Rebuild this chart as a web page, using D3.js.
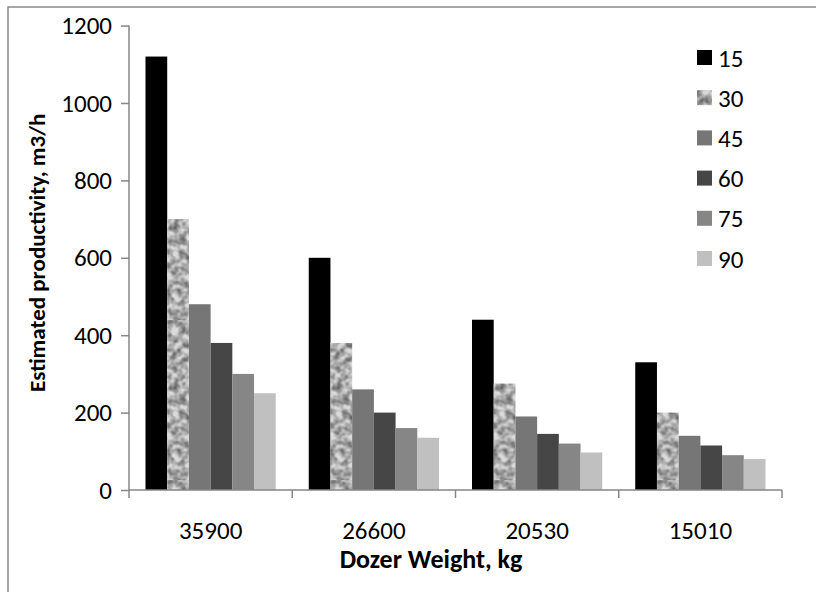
<!DOCTYPE html>
<html>
<head>
<meta charset="utf-8">
<script src="https://cdn.jsdelivr.net/npm/d3@7"></script>
<style>
  html, body { margin: 0; padding: 0; background: #fff; }
  svg { display: block; }
  text { font-family: Carlito, Lato, "Open Sans", sans-serif; fill: #000; }
</style>
</head>
<body>
<svg id="chart" width="816" height="592"></svg>
<script>
// ---- data ----
const categories = ["35900", "26600", "20530", "15010"];
const seriesNames = ["15", "30", "45", "60", "75", "90"];
const s15 = [1120, 600, 440, 330];
const s30 = [700, 380, 275, 200];
const s45 = [480, 260, 190, 140];
const s60 = [380, 200, 145, 115];
const s75 = [300, 160, 120, 90];
const s90 = [250, 135, 97, 80];
const yTicks = [0, 200, 400, 600, 800, 1000, 1200];
const xTitle = "Dozer Weight, kg";
const yTitle = "Estimated productivity, m3/h";

const seriesValues = [s15, s30, s45, s60, s75, s90];
const fills = ["#000000", "url(#granite)", "#767676", "#464646", "#868686", "#c0c0c0"];

const svg = d3.select("#chart");
const W = 816, H = 592;
const m = { left: 129, right: 34, top: 25.6, bottom: 102 };
const FONT = "Carlito, Lato, 'Open Sans', sans-serif";

// defs: granite texture
const defs = svg.append("defs");
const filt = defs.append("filter").attr("id", "graniteF")
  .attr("x", 0).attr("y", 0).attr("width", 1).attr("height", 1)
  .attr("color-interpolation-filters", "sRGB");
filt.append("feTurbulence").attr("type", "fractalNoise")
  .attr("baseFrequency", 0.14).attr("numOctaves", 2).attr("seed", 11).attr("result", "noise");
filt.append("feColorMatrix").attr("in", "noise").attr("type", "matrix")
  .attr("values", "0 0 0 0 0.25  0 0 0 0 0.25  0 0 0 0 0.25  1.5 0 0 0 -0.45")
  .attr("result", "dark");
filt.append("feFlood").attr("flood-color", "#dadada").attr("result", "base");
filt.append("feComposite").attr("in", "dark").attr("in2", "base").attr("operator", "over").attr("result", "mix");
filt.append("feComposite").attr("in", "mix").attr("in2", "SourceGraphic").attr("operator", "in");

const pat = defs.append("pattern").attr("id", "granite")
  .attr("patternUnits", "userSpaceOnUse").attr("width", 160).attr("height", 160);
pat.append("rect").attr("width", 160).attr("height", 160).attr("fill", "#aaa")
  .attr("filter", "url(#graniteF)");

// outer frame
svg.append("rect").attr("x", 8).attr("y", 7).attr("width", W + 20).attr("height", H + 20)
  .attr("fill", "none").attr("stroke", "#8a8a8a").attr("stroke-width", 1.5);

// scales
const x0 = d3.scaleBand().domain(categories).range([m.left, W - m.right]).paddingInner(0).paddingOuter(0);
const x1 = d3.scaleBand().domain(seriesNames).range([0, x0.bandwidth()]).paddingOuter(0.76).paddingInner(0);
const y = d3.scaleLinear().domain([0, 1200]).range([H - m.bottom, m.top]);

// bars
const groups = svg.append("g").selectAll("g").data(categories).join("g")
  .attr("transform", c => `translate(${x0(c)},0)`);
groups.selectAll("rect")
  .data((c, ci) => seriesNames.map((s, si) => ({ s, si, v: seriesValues[si][ci] })))
  .join("rect")
  .attr("x", d => x1(d.s))
  .attr("y", d => y(d.v))
  .attr("width", x1.bandwidth())
  .attr("height", d => y(0) - y(d.v))
  .attr("fill", d => fills[d.si]);

// y axis
const yAxis = svg.append("g").attr("transform", `translate(${m.left},0)`)
  .call(d3.axisLeft(y).tickValues(yTicks).tickSize(8).tickPadding(9).tickFormat(d3.format("d")));
yAxis.selectAll("line, path").attr("stroke", "#868686").attr("stroke-width", 1.5);
yAxis.select("path").attr("d", `M0,${y(1200)}V${y(0)}`);
yAxis.selectAll("text").attr("font-size", 25).attr("fill", "#000").style("font-family", FONT);

// x axis
const xAxis = svg.append("g").attr("transform", `translate(0,${y(0)})`)
  .call(d3.axisBottom(x0).tickSize(0).tickPadding(31));
xAxis.select("path").attr("stroke", "#868686").attr("stroke-width", 1.5)
  .attr("d", `M${m.left},0H${W - m.right}`);
xAxis.selectAll("text").attr("font-size", 25).attr("fill", "#000").style("font-family", FONT);
// category boundary ticks
const bounds = categories.map(c => x0(c)).concat([x0(categories[categories.length - 1]) + x0.bandwidth()]);
xAxis.selectAll("line.bt").data(bounds).join("line").attr("class", "bt")
  .attr("x1", d => d).attr("x2", d => d).attr("y1", 0).attr("y2", 8)
  .attr("stroke", "#868686").attr("stroke-width", 1.5);

// axis titles
svg.append("text").attr("x", 431).attr("y", 568)
  .attr("text-anchor", "middle").attr("font-size", 26).attr("font-weight", "bold").text(xTitle);
svg.append("text").attr("transform", `translate(45,${(y(0) + y(1200)) / 2 - 5}) rotate(-90)`)
  .attr("text-anchor", "middle").attr("font-size", 23).attr("font-weight", "bold").text(yTitle);

// legend
const leg = svg.append("g").attr("transform", "translate(697,50)");
const li = leg.selectAll("g").data(seriesNames).join("g")
  .attr("transform", (d, i) => `translate(0,${i * 40.2})`);
li.append("rect").attr("width", 15).attr("height", 15).attr("fill", (d, i) => fills[i]);
li.append("text").attr("x", 21).attr("y", 7.5).attr("dy", "0.36em")
  .attr("font-size", 25).text(d => d);
</script>
</body>
</html>
